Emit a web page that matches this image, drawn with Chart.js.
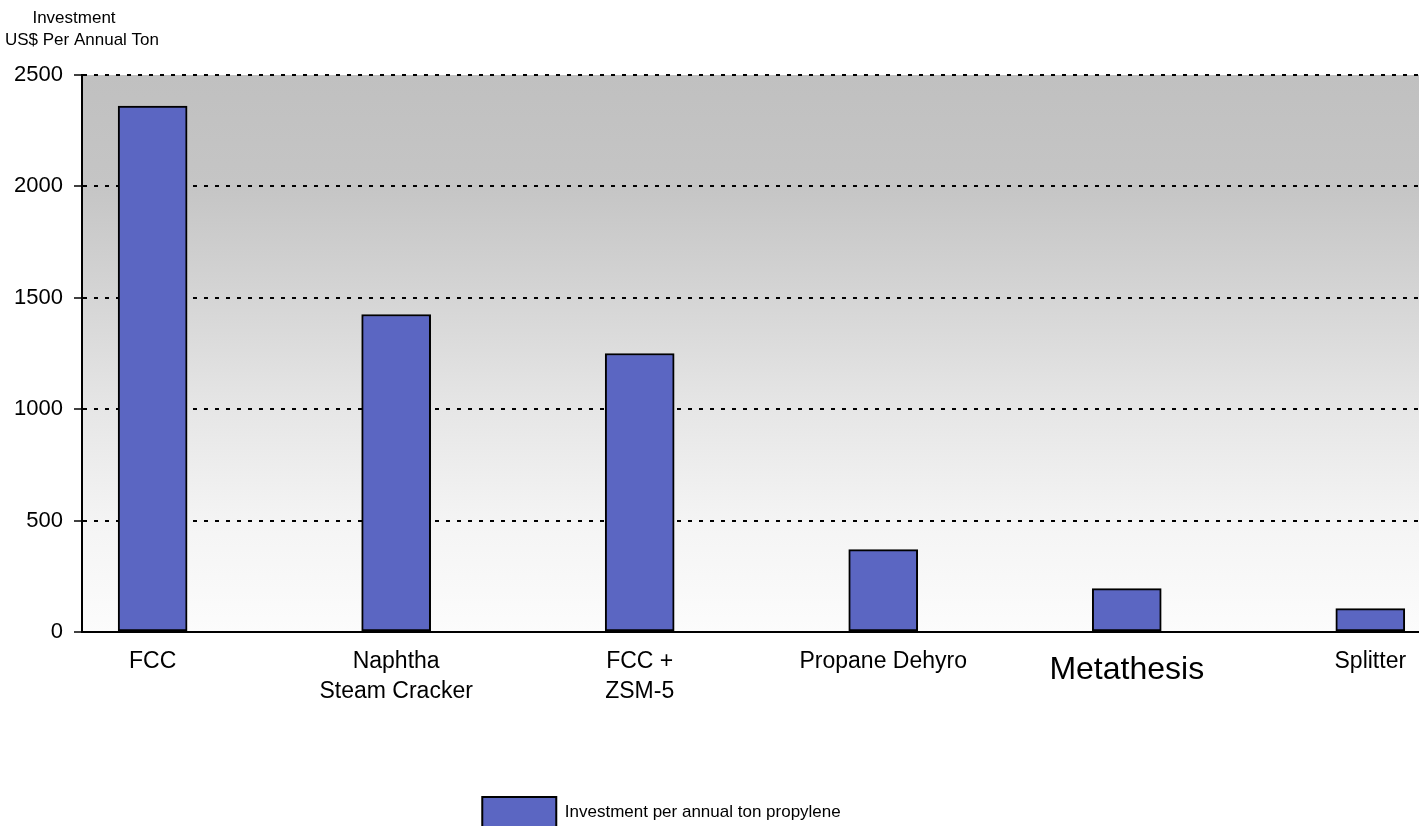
<!DOCTYPE html>
<html>
<head>
<meta charset="utf-8">
<title>Investment per annual ton propylene</title>
<script src="https://cdn.jsdelivr.net/npm/chart.js@4.4.1/dist/chart.umd.min.js"></script>
<style>
  html, body { margin: 0; padding: 0; background: #fff; }
  #wrap { width: 1419px; height: 826px; }
</style>
</head>
<body>
<div id="wrap"><canvas id="investChart" width="1419" height="826"></canvas></div>
<script>
// Capital cost per annual ton of propylene, by production route
const routes = [
  ['FCC'],
  ['Naphtha', 'Steam Cracker'],
  ['FCC +', 'ZSM-5'],
  ['Propane Dehyro'],
  ['Metathesis'],
  ['Splitter']
];
const investment = [2360, 1425, 1250, 370, 195, 105];
const yTicks = [0, 500, 1000, 1500, 2000, 2500];
const seriesLabel = 'Investment per annual ton propylene';
const axisTitle = ['Investment', 'US$ Per Annual Ton'];

const FONT = 'Arial, "Liberation Sans", sans-serif';
const BAR_BLUE = '#5b66c2';

// grey-to-white wash behind the plot area
const plotBackground = {
  id: 'plotBackground',
  beforeDraw(chart) {
    const { ctx, chartArea: a } = chart;
    const g = ctx.createLinearGradient(0, a.top, 0, a.bottom);
    g.addColorStop(0, '#c0c0c0');
    g.addColorStop(0.2, '#c5c5c5');
    g.addColorStop(0.4, '#d5d5d5');
    g.addColorStop(0.6, '#e6e6e6');
    g.addColorStop(0.8, '#f4f4f4');
    g.addColorStop(1, '#fcfcfc');
    ctx.save();
    ctx.fillStyle = g;
    ctx.fillRect(a.left, a.top, a.right - a.left, a.bottom - a.top);
    ctx.restore();
  }
};

// two-line unit caption above the value axis
const valueAxisCaption = {
  id: 'valueAxisCaption',
  afterDraw(chart) {
    const ctx = chart.ctx;
    ctx.save();
    ctx.fillStyle = '#000';
    ctx.font = '17px ' + FONT;
    ctx.textAlign = 'center';
    ctx.textBaseline = 'middle';
    ctx.fillText(axisTitle[0], 74, 18);
    ctx.fillText(axisTitle[1], 82, 40);
    ctx.restore();
  }
};

// legend sits a little left of centre and hugs the bottom edge
const legendNudge = {
  id: 'legendNudge',
  afterLayout(chart) {
    const lg = chart.legend;
    lg.left -= 48; lg.right -= 48;
    lg.top += 11; lg.bottom += 11;
  }
};

new Chart(document.getElementById('investChart'), {
  type: 'bar',
  data: {
    datasets: [{
      label: seriesLabel,
      data: investment.map((v, i) => ({ x: i, y: v })),
      backgroundColor: BAR_BLUE,
      borderColor: '#000',
      borderWidth: 2,
      borderSkipped: false,
      barThickness: 69
    }]
  },
  plugins: [plotBackground, valueAxisCaption, legendNudge],
  options: {
    responsive: false,
    animation: false,
    layout: { padding: { top: 75, right: 0, bottom: 0, left: 0 } },
    plugins: {
      tooltip: { enabled: false },
      legend: {
        position: 'bottom',
        labels: {
          boxWidth: 74,
          boxHeight: 30,
          color: '#000',
          font: { family: FONT, size: 17 },
          padding: 10
        }
      }
    },
    scales: {
      x: {
        type: 'linear',
        offset: false,
        min: -0.29,
        max: 5.2,
        afterBuildTicks: s => { s.ticks = routes.map((_, i) => ({ value: i })); },
        // plot runs right to the canvas edge
        afterFit: s => { s.height = 144; s.paddingLeft = 0; s.paddingRight = 0; },
        grid: { display: false },
        border: { display: false },
        ticks: {
          autoSkip: false,
          maxRotation: 0,
          padding: 7,
          color: '#000',
          callback: v => routes[v],
          font: c => c.index === 4
            ? { family: FONT, size: 32, lineHeight: 1.44 }
            : { family: FONT, size: 23, lineHeight: 1.3 }
        }
      },
      y: {
        min: 0,
        max: 2500,
        afterBuildTicks: s => { s.ticks = yTicks.map(v => ({ value: v })); },
        afterFit: s => { s.width = 82; },
        grid: {
          color: '#000',
          lineWidth: 2,
          tickLength: 8,
          tickColor: '#000',
          tickWidth: 1.5
        },
        border: {
          display: true,
          color: '#000',
          width: 2,
          dash: c => (c.tick && c.tick.value !== 0) ? [4, 7] : []
        },
        ticks: {
          padding: 11,
          color: '#000',
          font: { family: FONT, size: 22 },
          callback: v => String(v)
        }
      }
    }
  }
});
</script>
</body>
</html>
